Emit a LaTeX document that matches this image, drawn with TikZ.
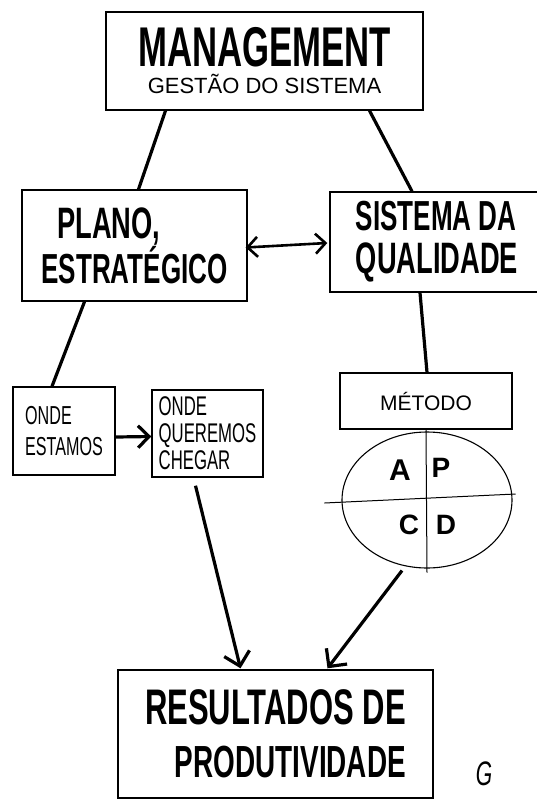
\documentclass[tikz,border=0pt]{standalone}
\usepackage{fontspec}
\usetikzlibrary{arrows.meta,shapes.geometric}
\newfontfamily\handb[FakeStretch=0.62]{Liberation Sans}
\newfontfamily\hands[FakeStretch=0.62]{Liberation Sans}
\newfontfamily\handw{Liberation Sans}
\newcommand{\fsz}[1]{\fontsize{#1}{#1}\selectfont}
\tikzset{
  box/.style={draw, line width=1.4pt, inner sep=0pt},
  link/.style={line width=3.2pt},
  barb/.style={-{Straight Barb[length=13pt,width=26pt]}}
}
\begin{document}
\begin{tikzpicture}[x=1pt,y=-1pt]
        \useasboundingbox (0,0) rectangle (536,801);
        % caixas
        \node [box, minimum width=317, minimum height=98, align=center,
               font=\fontsize{10}{27}\selectfont] (mgmt) at (264.5,61)
              {{\handb\bfseries\fsz{56}MANAGEMENT}\\{\handw\fsz{22}GESTÃO DO SISTEMA}};
        \node [box, minimum width=225, minimum height=111, align=left,
               font=\fontsize{10}{43}\selectfont] (plan) at (134.5,245.5)
              {\hspace*{16pt}{\handb\bfseries\fsz{44}PLANO,}\\{\handb\bfseries\fsz{42}ESTRATÉGICO}};
        \node [box, minimum width=214, minimum height=100, align=left,
               font=\fontsize{10}{43}\selectfont] (sq) at (437,242)
              {{\handb\bfseries\fsz{42}SISTEMA DA}\\{\handb\bfseries\fsz{44}QUALIDADE}};
        \node [box, minimum width=102, minimum height=88, align=left,
               font=\fontsize{10}{31}\selectfont] (where) at (64,431)
              {{\hands\fsz{26}ONDE}\\{\hands\fsz{26}ESTAMOS}};
        \node [box, minimum width=111, minimum height=87, align=left,
               font=\fontsize{10}{27}\selectfont] (goal) at (207.5,433.5)
              {{\hands\fsz{27}ONDE}\\{\hands\fsz{27}QUEREMOS}\\{\hands\fsz{27}CHEGAR}};
        \node [box, minimum width=172, minimum height=56] (metodo) at (426,401)
              {\handw\fsz{21}MÉTODO};
        \node [draw, ellipse, line width=1.1pt, minimum width=170, minimum height=136] (pdca) at (427,500) {};
        \node [box, minimum width=315, minimum height=128, align=right,
               font=\fontsize{10}{53}\selectfont] (result) at (275.5,734)
              {{\handb\bfseries\fsz{50}RESULTADOS DE}\\{\handb\bfseries\fsz{45}PRODUTIVIDADE}};
        % PDCA
        \draw [line width=1pt] (metodo.south) -- ([yshift=-4pt]pdca.south);
        \draw [line width=1pt] ([xshift=-17pt,yshift=-3pt]pdca.west) -- ([xshift=3pt,yshift=6pt]pdca.east);
        \node [font=\handw\bfseries\fsz{30}] (a) at (400,470) {A};
        \node [font=\handw\bfseries\fsz{28}] (p) at (441,468) {P};
        \node [font=\handw\bfseries\fsz{28}] (c) at (409,525) {C};
        \node [font=\handw\bfseries\fsz{28}] (d) at (446,525) {D};
        % ligacoes
        \draw [link] ([xshift=-99pt]mgmt.south) -- ([xshift=4pt]plan.north);
        \draw [link] ([xshift=105pt]mgmt.south) -- ([xshift=-25pt]sq.north);
        \draw [line width=2.6pt, {Straight Barb[length=10pt,width=20pt]}-{Straight Barb[length=10pt,width=20pt]}]
              ([xshift=-2pt,yshift=-2pt]plan.east) -- ([xshift=-2pt,yshift=-1pt]sq.west);
        \draw [link] ([xshift=-50pt]plan.south) -- ([xshift=-12pt]where.north);
        \draw [link, -{Straight Barb[length=11pt,width=22pt]}] ([yshift=-6pt]where.east) -- ([yshift=-3pt]goal.west);
        \draw [link] ([xshift=-17pt]sq.south) -- ([xshift=1pt]metodo.north);
        \draw [link, barb] ([xshift=-12pt,yshift=-8pt]goal.south) -- ([xshift=-35pt,yshift=1pt]result.north);
        \draw [link, barb] ([xshift=-25pt,yshift=-2pt]pdca.south) -- ([xshift=52pt,yshift=1pt]result.north);
        % assinatura
        \node [font=\hands\itshape\fsz{34}] (sig) at (484,774) {G};
    \end{tikzpicture}
\end{document}
